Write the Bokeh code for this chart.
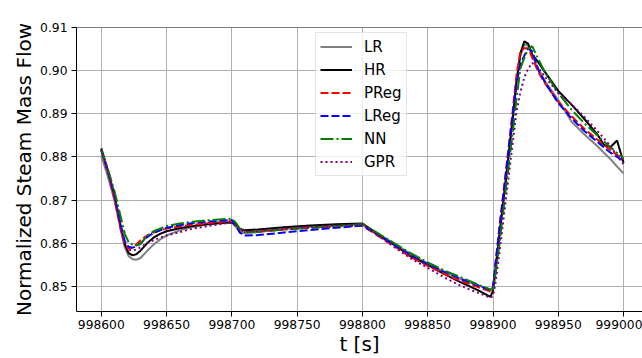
from bokeh.plotting import figure
from bokeh.models import FixedTicker, BasicTickFormatter, NumeralTickFormatter, Range1d, Span
from bokeh.embed import file_html
from bokeh.resources import INLINE

t = [998600, 998605, 998610, 998615, 998618, 998621, 998624, 998627, 998630, 998635,
     998640, 998645, 998650, 998660, 998670, 998680, 998690, 998700, 998703, 998706,
     998710, 998720, 998740, 998760, 998780, 998800, 998812, 998825, 998837, 998850,
     998862, 998875, 998888, 998898, 998900, 998902, 998905, 998910, 998915, 998918,
     998921, 998924, 998927, 998930, 998935, 998940, 998950, 998960, 998970, 998980,
     998985, 998990, 998995, 999000]

lr = [0.8803, 0.8755, 0.8700, 0.8630, 0.8590, 0.8570, 0.8563, 0.8562, 0.8566, 0.8582,
      0.8597, 0.8609, 0.8618, 0.8630, 0.8638, 0.8643, 0.8646, 0.8648, 0.8638, 0.8628,
      0.8623, 0.8626, 0.8633, 0.8638, 0.8642, 0.8645, 0.8622, 0.8598, 0.8575, 0.8553,
      0.8535, 0.8518, 0.8503, 0.8492, 0.8497, 0.8545, 0.8625, 0.8755, 0.8890, 0.8975,
      0.9035, 0.9060, 0.9058, 0.9035, 0.9002, 0.8975, 0.8932, 0.8882, 0.8852, 0.8825,
      0.8810, 0.8795, 0.8778, 0.8762]

hr = [0.8820, 0.8768, 0.8712, 0.8638, 0.8598, 0.8577, 0.8572, 0.8575, 0.8583, 0.8600,
      0.8613, 0.8622, 0.8628, 0.8635, 0.8640, 0.8644, 0.8647, 0.8649, 0.8643, 0.8634,
      0.8630, 0.8632, 0.8637, 0.8641, 0.8644, 0.8646, 0.8620, 0.8595, 0.8570, 0.8550,
      0.8530, 0.8510, 0.8492, 0.8476, 0.8490, 0.8540, 0.8620, 0.8750, 0.8885, 0.8975,
      0.9040, 0.9068, 0.9062, 0.9038, 0.9018, 0.8996, 0.8953, 0.8922, 0.8888, 0.8852,
      0.8828, 0.8823, 0.8838, 0.8787]

preg = [0.8815, 0.8765, 0.8705, 0.8630, 0.8598, 0.8587, 0.8590, 0.8598, 0.8607, 0.8618,
        0.8625, 0.8630, 0.8634, 0.8639, 0.8643, 0.8646, 0.8649, 0.8652, 0.8645, 0.8633,
        0.8626, 0.8627, 0.8632, 0.8636, 0.8639, 0.8641, 0.8617, 0.8592, 0.8568, 0.8548,
        0.8530, 0.8513, 0.8499, 0.8489, 0.8495, 0.8555, 0.8640, 0.8770, 0.8905, 0.8990,
        0.9045, 0.9052, 0.9052, 0.9030, 0.8995, 0.8970, 0.8928, 0.8895, 0.8865, 0.8840,
        0.8828, 0.8816, 0.8805, 0.8795]

lreg = [0.8815, 0.8768, 0.8712, 0.8640, 0.8605, 0.8592, 0.8590, 0.8593, 0.8600, 0.8614,
        0.8624, 0.8630, 0.8636, 0.8642, 0.8647, 0.8650, 0.8652, 0.8654, 0.8642, 0.8625,
        0.8618, 0.8619, 0.8625, 0.8631, 0.8636, 0.8641, 0.8620, 0.8595, 0.8573, 0.8552,
        0.8535, 0.8518, 0.8503, 0.8492, 0.8498, 0.8555, 0.8635, 0.8765, 0.8895, 0.8970,
        0.9015, 0.9035, 0.9052, 0.9045, 0.9000, 0.8972, 0.8925, 0.8890, 0.8860, 0.8835,
        0.8822, 0.8810, 0.8800, 0.8791]

nn = [0.8818, 0.8772, 0.8722, 0.8660, 0.8622, 0.8602, 0.8597, 0.8595, 0.8598, 0.8617,
      0.8628, 0.8634, 0.8640, 0.8646, 0.8650, 0.8653, 0.8655, 0.8657, 0.8648, 0.8634,
      0.8626, 0.8627, 0.8632, 0.8636, 0.8640, 0.8645, 0.8623, 0.8599, 0.8577, 0.8556,
      0.8538, 0.8522, 0.8505, 0.8493, 0.8493, 0.8530, 0.8600, 0.8730, 0.8855, 0.8935,
      0.9005, 0.9030, 0.9050, 0.9057, 0.9025, 0.8995, 0.8948, 0.8910, 0.8878, 0.8850,
      0.8836, 0.8822, 0.8810, 0.8797]

gpr = [0.8818, 0.8768, 0.8710, 0.8638, 0.8600, 0.8585, 0.8583, 0.8586, 0.8591, 0.8600,
       0.8607, 0.8613, 0.8618, 0.8626, 0.8634, 0.8639, 0.8644, 0.8648, 0.8640, 0.8632,
       0.8627, 0.8629, 0.8634, 0.8638, 0.8641, 0.8644, 0.8618, 0.8590, 0.8565, 0.8543,
       0.8522, 0.8502, 0.8486, 0.8474, 0.8478, 0.8510, 0.8580, 0.8705, 0.8830, 0.8905,
       0.8950, 0.8985, 0.9005, 0.9018, 0.9005, 0.8985, 0.8948, 0.8922, 0.8893, 0.8860,
       0.8843, 0.8825, 0.8803, 0.8783]

x_ticks = [998600, 998650, 998700, 998750, 998800, 998850, 998900, 998950, 999000]
y_ticks = [0.85, 0.86, 0.87, 0.88, 0.89, 0.90, 0.91]

FONT = "DejaVu Sans"

p = figure(width=642, height=358, output_backend="svg", toolbar_location=None,
           x_range=Range1d(998581, 999014.5), y_range=Range1d(0.8442, 0.9100),
           min_border_left=76, min_border_right=0, min_border_top=27, min_border_bottom=47)
p.outline_line_color = None
p.background_fill_color = "white"

series = [
    ("LR", lr, "#808080", "solid"),
    ("HR", hr, "#000000", "solid"),
    ("PReg", preg, "#ff0000", "8 3"),
    ("LReg", lreg, "#0000ff", "8 3"),
    ("NN", nn, "#008000", "13 3 2 3"),
    ("GPR", gpr, "#800080", "2 3"),
]
for name, ys, col, dash in series:
    p.line(t, ys, line_color=col, line_width=2, line_dash=dash, legend_label=name)

# axes
p.xaxis.ticker = FixedTicker(ticks=x_ticks)
p.xaxis.formatter = BasicTickFormatter(use_scientific=False)
p.yaxis.ticker = FixedTicker(ticks=y_ticks)
p.yaxis.formatter = NumeralTickFormatter(format="0.00")
for ax in (p.xaxis[0], p.yaxis[0]):
    ax.axis_line_color = "black"
    ax.axis_line_width = 1
    ax.major_tick_line_color = "black"
    ax.major_tick_out = 5
    ax.major_tick_in = 0
    ax.minor_tick_line_color = None
    ax.major_label_text_font = FONT
    ax.major_label_text_font_size = "12.3px"
    ax.major_label_text_color = "black"
    ax.axis_label_text_font = FONT
    ax.axis_label_text_font_size = "20px"
    ax.axis_label_text_font_style = "normal"
    ax.axis_label_text_color = "black"
p.xaxis.axis_label = "t [s]"
p.yaxis.axis_label = "Normalized Steam Mass Flow"
p.xaxis.major_label_standoff = 3
p.xaxis.axis_label_standoff = 0
p.yaxis.major_label_standoff = 4
p.yaxis.axis_label_standoff = 1

# top spine
p.add_layout(Span(location=0.91, dimension="width", line_color="black", line_width=1))

p.xgrid.ticker = FixedTicker(ticks=x_ticks)
p.ygrid.ticker = FixedTicker(ticks=y_ticks)
p.grid.grid_line_color = "#b0b0b0"
p.grid.grid_line_width = 1

lg = p.legend[0]
lg.location = (239, 135)
lg.label_text_font = FONT
lg.label_text_font_size = "15px"
lg.label_text_color = "black"
lg.glyph_width = 32
lg.glyph_height = 19
lg.label_height = 19
lg.label_standoff = 12
lg.spacing = 4
lg.padding = 4
lg.margin = 0
lg.border_line_color = "#cccccc"
lg.border_line_width = 1
lg.background_fill_alpha = 0.8

open("out.html", "w").write(file_html(p, INLINE))
